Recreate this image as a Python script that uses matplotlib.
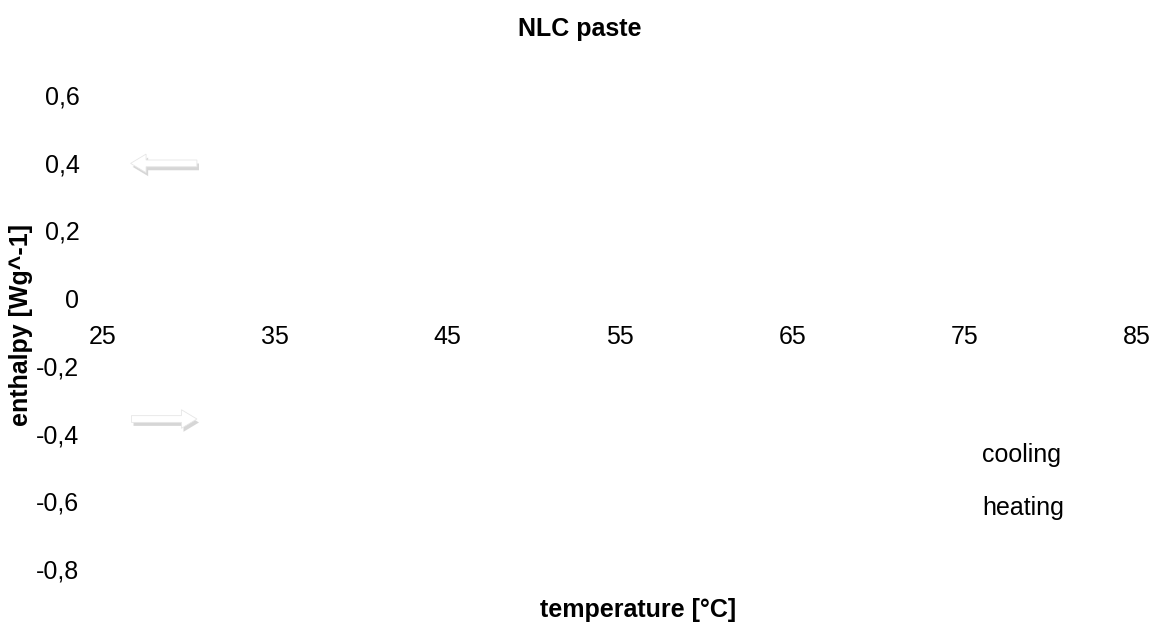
import matplotlib
matplotlib.use("Agg")
import matplotlib.pyplot as plt
from matplotlib.patches import FancyArrow
import matplotlib.patheffects as pe

plt.rcParams['font.family'] = ['Liberation Sans', 'DejaVu Sans']

# Data (the curves in the reference are drawn in white and are not visible)
cooling_temp = []
cooling_enthalpy = []
heating_temp = []
heating_enthalpy = []

x_ticks = [25, 35, 45, 55, 65, 75, 85]
y_ticks = [-0.8, -0.6, -0.4, -0.2, 0, 0.2, 0.4, 0.6]
y_tick_labels = ['-0,8', '-0,6', '-0,4', '-0,2', '0', '0,2', '0,4', '0,6']

W, H = 1159, 628
fig = plt.figure(figsize=(W / 100, H / 100), dpi=100)
ax = fig.add_axes([103 / W, 1 - 569 / H, (1137 - 103) / W, (569 - 95) / H])

ax.plot(cooling_temp, cooling_enthalpy, color='white', lw=2, label='cooling')
ax.plot(heating_temp, heating_enthalpy, color='white', lw=2, label='heating')

ax.set_xlim(25, 85)
ax.set_ylim(-0.8, 0.6)
ax.set_xticks(x_ticks)
ax.set_xticklabels([str(t) for t in x_ticks])
ax.set_yticks(y_ticks)
ax.set_yticklabels(y_tick_labels)

for s in ax.spines.values():
    s.set_visible(False)
ax.spines['bottom'].set_position(('data', 0))
ax.tick_params(axis='both', length=0, labelsize=18, colors='black')
ax.tick_params(axis='y', pad=17)
ax.tick_params(axis='x', pad=19)

# arrows (white with soft grey shadow)
shadow = [pe.SimplePatchShadow(offset=(1.5, -2.5), shadow_rgbFace='0.65', alpha=0.45), pe.Normal()]
a1 = FancyArrow(30.45, 0.398, -3.85, 0, width=0.02, head_width=0.055, head_length=0.9,
                length_includes_head=True, facecolor='white', edgecolor='0.9', lw=0.6)
a1.set_path_effects(shadow)
ax.add_patch(a1)
a2 = FancyArrow(26.65, -0.357, 3.8, 0, width=0.02, head_width=0.055, head_length=0.9,
                length_includes_head=True, facecolor='white', edgecolor='0.9', lw=0.6)
a2.set_path_effects(shadow)
ax.add_patch(a2)

fig.text(0.5, 1 - 29 / H, 'NLC paste', ha='center', va='center', fontsize=18, fontweight='bold')
fig.text(638 / W, 1 - 610 / H, 'temperature [°C]', ha='center', va='center', fontsize=18, fontweight='bold')
fig.text(21 / W, 1 - 325 / H, 'enthalpy [Wg^-1]', ha='center', va='center', rotation=90,
         fontsize=18, fontweight='bold')

leg = ax.legend(loc='upper left', bbox_to_anchor=(912 / W, 1 - 443 / H), bbox_transform=fig.transFigure,
                frameon=False, fontsize=18, handlelength=2.0, labelspacing=1.15, borderpad=0, borderaxespad=0)

fig.savefig('out.png', dpi=100, facecolor='white')
